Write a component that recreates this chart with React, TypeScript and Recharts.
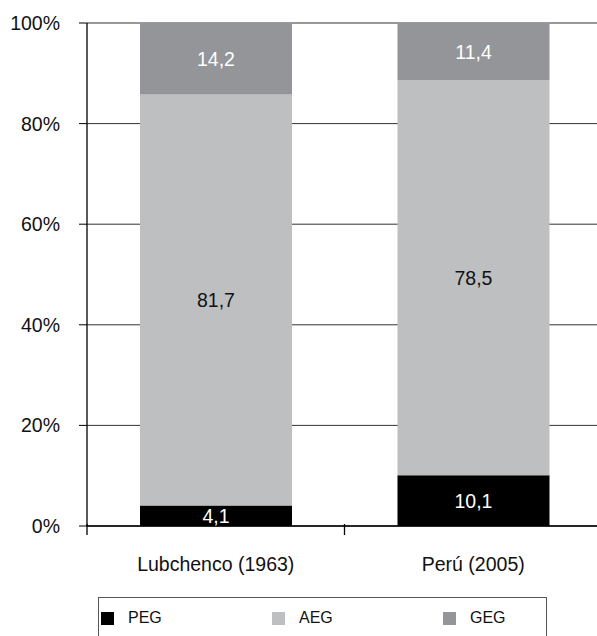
import { BarChart, Bar, XAxis, YAxis, CartesianGrid, LabelList } from "recharts";

const categories = ["Lubchenco (1963)", "Perú (2005)"];
const pegValues = [4.1, 10.1];
const aegValues = [81.7, 78.5];
const gegValues = [14.2, 11.4];
const yTicks = [0, 20, 40, 60, 80, 100];

const series = [
  { key: "PEG", color: "#000000", labelColor: "#ffffff" },
  { key: "AEG", color: "#bebfc1", labelColor: "#111111" },
  { key: "GEG", color: "#939598", labelColor: "#ffffff" },
];

const data = categories.map((name, i) => ({
  name,
  PEG: pegValues[i],
  AEG: aegValues[i],
  GEG: gegValues[i],
}));

const fmt = (v: any) => String(v).replace(".", ",");
const FONT = "Liberation Sans, Arial, sans-serif";

const CategoryTick = (props: any) => {
  const { x, y, payload } = props;
  const off = payload && payload.offset ? payload.offset : 128.75;
  return (
    <g>
      <line x1={x - off} x2={x - off} y1={y - 33} y2={y - 22} stroke="#000" strokeWidth={1.3} />
      <text x={x} y={y} dy="0.71em" textAnchor="middle" fill="#111" fontSize={19.5} fontFamily={FONT}>
        {payload.value}
      </text>
    </g>
  );
};

export default function App() {
  return (
    <div
      style={{
        position: "absolute",
        left: 0,
        top: 0,
        width: 597,
        height: 636,
        overflow: "hidden",
        background: "#fff",
        fontFamily: FONT,
      }}
    >
      <BarChart
        width={612}
        height={636}
        data={data}
        margin={{ top: 23, right: 10, bottom: 80, left: 0 }}
        barSize={152}
      >
        <CartesianGrid vertical={false} stroke="#333" strokeWidth={1} />
        <XAxis
          dataKey="name"
          height={30}
          axisLine={{ stroke: "#000", strokeWidth: 1.3 }}
          tickLine={false}
          tickSize={11}
          tickMargin={20}
          tick={<CategoryTick />}
          interval={0}
        />
        <YAxis
          width={87}
          domain={[0, 100]}
          ticks={yTicks}
          tickFormatter={(v) => `${v}%`}
          axisLine={{ stroke: "#000", strokeWidth: 1.3 }}
          tickLine={{ stroke: "#000" }}
          tickSize={8}
          tickMargin={19}
          tick={{ fill: "#111", fontSize: 19.5, fontFamily: FONT }}
        />
        {series.map((s) => (
          <Bar key={s.key} dataKey={s.key} stackId="a" fill={s.color} isAnimationActive={false}>
            <LabelList
              dataKey={s.key}
              position="center"
              formatter={fmt}
              fill={s.labelColor}
              fontSize={19.5}
              fontFamily={FONT}
            />
          </Bar>
        ))}
      </BarChart>
      <div
        style={{
          position: "absolute",
          left: 98,
          top: 597,
          width: 449,
          height: 50,
          border: "1px solid #555",
          boxSizing: "border-box",
        }}
      >
        {series.map((s, i) => (
          <div
            key={s.key}
            style={{
              position: "absolute",
              left: 2 + i * 171,
              top: 11,
              display: "flex",
              alignItems: "center",
              fontSize: 16,
              color: "#111",
            }}
          >
            <span style={{ display: "inline-block", width: 13, height: 13, background: s.color, marginRight: 14 }} />
            <span>{s.key}</span>
          </div>
        ))}
      </div>
    </div>
  );
}
